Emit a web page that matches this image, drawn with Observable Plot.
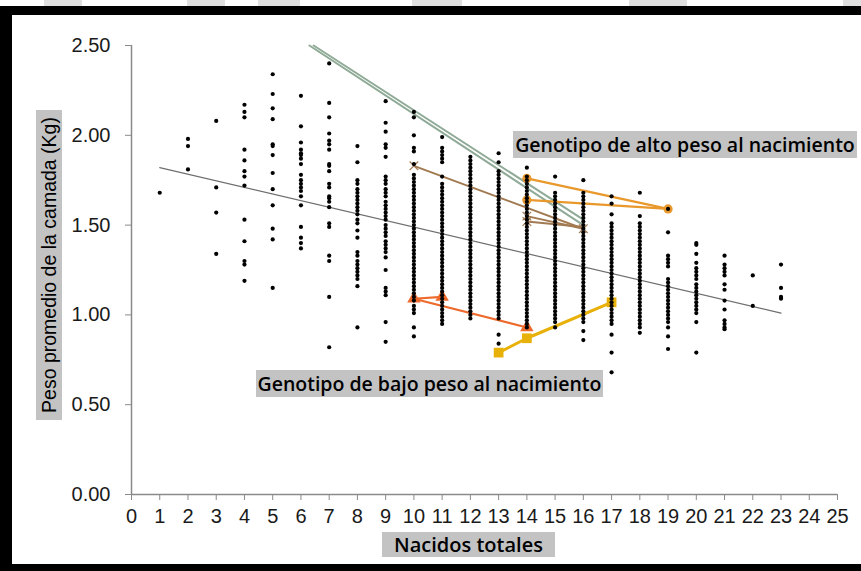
<!DOCTYPE html>
<html><head><meta charset="utf-8">
<script src="https://cdn.jsdelivr.net/npm/d3@7"></script>
<script src="https://cdn.jsdelivr.net/npm/@observablehq/plot@0.6"></script>
<style>
html,body{margin:0;padding:0;background:#fff;}
#wrap{position:relative;width:861px;height:571px;overflow:hidden;background:#fff;}
#chart{position:absolute;left:0;top:0;}
.box{position:absolute;background:#c3c3c3;color:#000;font-family:"Open Sans",sans-serif;font-weight:600;white-space:nowrap;display:flex;align-items:center;justify-content:center;}
.bar{position:absolute;background:#000;}
.blob{position:absolute;background:#e0e0e0;top:0;height:6px;}
#ylab{position:absolute;left:-106px;top:252px;width:310px;height:26px;transform:rotate(-90deg);background:#c3c3c3;color:#000;font-family:"Liberation Sans",Arial,sans-serif;font-size:19.5px;display:flex;align-items:center;justify-content:center;white-space:nowrap;}
</style>
</head><body>
<div id="wrap">
  <div id="chart"></div>
  <div class="blob" style="left:44px;width:38px"></div>
  <div class="blob" style="left:187px;width:38px"></div>
  <div class="blob" style="left:258px;width:42px"></div>
  <div class="blob" style="left:412px;width:50px"></div>
  <div class="blob" style="left:629px;width:58px"></div>
  <div class="blob" style="left:843px;width:18px"></div>
  <div class="bar" style="left:0;top:6px;width:861px;height:9px"></div>
  <div class="bar" style="left:0;top:6px;width:12px;height:565px"></div>
  <div class="bar" style="left:0;top:564px;width:861px;height:7px"></div>
  <div id="ylab"></div>
  <div class="box" id="xlab" style="left:382px;top:532px;width:173px;height:25px;font-size:20px"></div>
  <div class="box" id="alto" style="left:513px;top:131px;width:344px;height:27px;font-size:19.5px"></div>
  <div class="box" id="bajo" style="left:256px;top:370px;width:347px;height:27px;font-size:19.5px"></div>
</div>
<script>
// ---- texts ----
const yLabel = "Peso promedio de la camada (Kg)";
const xLabel = "Nacidos totales";
const notaAlto = "Genotipo de alto peso al nacimiento";
const notaBajo = "Genotipo de bajo peso al nacimiento";

// ---- axis ticks ----
const xTicks = [0,1,2,3,4,5,6,7,8,9,10,11,12,13,14,15,16,17,18,19,20,21,22,23,24,25];
const yTicks = [0, 0.5, 1.0, 1.5, 2.0, 2.5];

// ---- scatter: litter mean weight (kg) per total born ----
const peso1 = [1.68];
const peso2 = [1.98, 1.94, 1.81];
const peso3 = [2.08, 1.71, 1.57, 1.34];
const peso4 = [2.17, 2.13, 2.10, 1.92, 1.86, 1.80, 1.77, 1.72, 1.53, 1.41, 1.30, 1.28, 1.19];
const peso5 = [2.34, 2.23, 2.15, 2.09, 1.95, 1.94, 1.89, 1.79, 1.70, 1.61, 1.48, 1.42, 1.15];
const peso6 = [2.22, 2.05, 1.96, 1.92, 1.90, 1.89, 1.87, 1.84, 1.78, 1.75, 1.73, 1.71, 1.69, 1.66, 1.61, 1.49, 1.43, 1.40, 1.37];
const peso7 = [2.40, 2.18, 2.10, 2.01, 1.97, 1.95, 1.92, 1.84, 1.83, 1.80, 1.73, 1.71, 1.66, 1.65, 1.63, 1.60, 1.51, 1.49, 1.33, 1.30, 1.10, 0.82];
const peso8 = [1.94, 1.85, 1.75, 1.73, 1.70, 1.68, 1.66, 1.64, 1.62, 1.60, 1.58, 1.56, 1.53, 1.51, 1.47, 1.43, 1.35, 1.33, 1.30, 1.28, 1.26, 1.24, 1.22, 1.20, 1.16, 0.93];
const peso9 = [2.19, 2.07, 2.02, 1.95, 1.93, 1.88, 1.77, 1.75, 1.73, 1.70, 1.68, 1.66, 1.63, 1.61, 1.59, 1.57, 1.55, 1.53, 1.50, 1.48, 1.46, 1.44, 1.41, 1.39, 1.37, 1.35, 1.32, 1.25, 1.15, 1.13, 1.11, 0.96, 0.85];
const peso10 = [2.13, 2.10, 2.00, 1.93, 1.91, 1.84, 1.78, 1.76, 1.74, 1.72, 1.70, 1.68, 1.66, 1.64, 1.62, 1.60, 1.58, 1.56, 1.54, 1.52, 1.50, 1.48, 1.46, 1.44, 1.42, 1.40, 1.38, 1.36, 1.34, 1.32, 1.30, 1.28, 1.26, 1.24, 1.22, 1.20, 1.18, 1.16, 1.14, 1.12, 1.10, 1.08, 1.05, 1.03, 1.01, 0.93, 0.88];
const peso11 = [1.99, 1.93, 1.91, 1.89, 1.87, 1.85, 1.77, 1.73, 1.71, 1.69, 1.67, 1.65, 1.63, 1.61, 1.59, 1.57, 1.55, 1.53, 1.51, 1.49, 1.47, 1.45, 1.43, 1.41, 1.39, 1.37, 1.35, 1.33, 1.31, 1.29, 1.27, 1.25, 1.23, 1.21, 1.19, 1.17, 1.15, 1.13, 1.11, 1.09, 1.07, 1.05, 1.03, 1.01, 0.99, 0.97, 0.95];
const peso12 = [1.88, 1.86, 1.84, 1.82, 1.80, 1.78, 1.76, 1.74, 1.72, 1.70, 1.68, 1.66, 1.64, 1.62, 1.60, 1.58, 1.56, 1.54, 1.52, 1.50, 1.48, 1.46, 1.44, 1.42, 1.40, 1.38, 1.36, 1.34, 1.32, 1.30, 1.28, 1.26, 1.24, 1.22, 1.20, 1.18, 1.16, 1.14, 1.12, 1.10, 1.08, 1.06, 1.04, 1.02, 1.00, 0.98];
const peso13 = [1.90, 1.85, 1.80, 1.78, 1.76, 1.74, 1.72, 1.70, 1.68, 1.66, 1.64, 1.62, 1.60, 1.58, 1.56, 1.54, 1.52, 1.50, 1.48, 1.46, 1.44, 1.42, 1.40, 1.38, 1.36, 1.34, 1.32, 1.30, 1.28, 1.26, 1.24, 1.22, 1.20, 1.18, 1.16, 1.14, 1.12, 1.10, 1.08, 1.06, 1.04, 1.02, 1.00, 0.98, 0.89, 0.84];
const peso14 = [1.82, 1.77, 1.75, 1.73, 1.71, 1.69, 1.67, 1.65, 1.63, 1.61, 1.59, 1.57, 1.55, 1.53, 1.51, 1.49, 1.47, 1.45, 1.43, 1.41, 1.39, 1.37, 1.35, 1.33, 1.31, 1.29, 1.27, 1.25, 1.23, 1.21, 1.19, 1.17, 1.15, 1.13, 1.11, 1.09, 1.07, 1.05, 1.03, 1.01, 0.99, 0.97, 0.95, 0.93];
const peso15 = [1.77, 1.68, 1.66, 1.64, 1.62, 1.60, 1.58, 1.56, 1.54, 1.52, 1.50, 1.48, 1.46, 1.44, 1.42, 1.40, 1.38, 1.36, 1.34, 1.32, 1.30, 1.28, 1.26, 1.24, 1.22, 1.20, 1.18, 1.16, 1.14, 1.12, 1.10, 1.08, 1.06, 1.04, 1.02, 1.00, 0.98, 0.96, 0.93];
const peso16 = [1.75, 1.68, 1.66, 1.64, 1.62, 1.60, 1.58, 1.56, 1.54, 1.52, 1.50, 1.48, 1.46, 1.44, 1.42, 1.40, 1.38, 1.36, 1.34, 1.32, 1.30, 1.28, 1.26, 1.24, 1.22, 1.20, 1.18, 1.16, 1.14, 1.12, 1.10, 1.08, 1.06, 1.04, 1.02, 1.00, 0.98, 0.96, 0.91, 0.86];
const peso17 = [1.66, 1.62, 1.56, 1.51, 1.49, 1.47, 1.45, 1.43, 1.41, 1.39, 1.37, 1.35, 1.33, 1.31, 1.29, 1.27, 1.25, 1.23, 1.21, 1.19, 1.17, 1.15, 1.13, 1.11, 1.09, 1.07, 1.05, 1.03, 1.01, 0.99, 0.97, 0.95, 0.89, 0.79, 0.68];
const peso18 = [1.68, 1.55, 1.51, 1.49, 1.47, 1.45, 1.43, 1.41, 1.39, 1.37, 1.35, 1.33, 1.31, 1.29, 1.27, 1.25, 1.23, 1.21, 1.19, 1.17, 1.15, 1.13, 1.11, 1.09, 1.07, 1.05, 1.03, 1.01, 0.99, 0.97, 0.95, 0.93, 0.90];
const peso19 = [1.59, 1.46, 1.33, 1.31, 1.29, 1.27, 1.20, 1.18, 1.16, 1.14, 1.12, 1.10, 1.08, 1.06, 1.04, 1.02, 1.00, 0.98, 0.96, 0.93, 0.88, 0.81];
const peso20 = [1.40, 1.39, 1.34, 1.29, 1.26, 1.24, 1.22, 1.20, 1.17, 1.15, 1.13, 1.11, 1.09, 1.07, 1.05, 1.03, 1.01, 0.96, 0.79];
const peso21 = [1.33, 1.28, 1.26, 1.24, 1.22, 1.17, 1.14, 1.08, 1.03, 0.97, 0.95, 0.93, 0.92];
const peso22 = [1.22, 1.05];
const peso23 = [1.28, 1.15, 1.10, 1.09];

// ---- overall trend line (endpoints) ----
const tendenciaX = [1, 23];
const tendenciaY = [1.82, 1.01];

// ---- genotype lines: [nacidos, peso] ----
const verde1 = [[6.3, 2.50], [16, 1.50]];
const verde2 = [[6.45, 2.50], [16, 1.53]];
const marron1 = [[10, 1.83], [16, 1.48]];
const marron2 = [[14, 1.55], [16, 1.48]];
const marron3 = [[14, 1.52], [16, 1.49]];
const naranja1 = [[14, 1.76], [19, 1.59]];
const naranja2 = [[14, 1.64], [19, 1.59]];
const rojo = [[11, 1.10], [10, 1.09], [14, 0.93]];
const amarillo = [[13, 0.79], [14, 0.87], [17, 1.07]];

// ---- build ----
const columnas = [peso1,peso2,peso3,peso4,peso5,peso6,peso7,peso8,peso9,peso10,peso11,peso12,peso13,peso14,peso15,peso16,peso17,peso18,peso19,peso20,peso21,peso22,peso23];
const puntos = columnas.flatMap((arr, i) => arr.map(v => ({x: i + 1, y: v})));
const tendencia = tendenciaX.map((x, i) => ({x, y: tendenciaY[i]}));
const pts = a => a.map(([x, y]) => ({x, y}));

const cVerde = "#8faa96", cMarron = "#a27a52", cNaranja = "#e9982c", cRojo = "#ee6a2c", cAmar = "#e8b10a";

const lineMark = (arr, color, w) => Plot.line(pts(arr), {x: "x", y: "y", stroke: color, strokeWidth: w});

const chart = Plot.plot({
  width: 861, height: 571,
  marginLeft: 131, marginRight: 24, marginTop: 45, marginBottom: 77,
  style: {fontFamily: "'Liberation Sans', Arial, sans-serif", fontSize: "20px", background: "transparent", color: "#1a1a1a"},
  x: {domain: [0, 25], axis: null},
  y: {domain: [0, 2.5], axis: null},
  marks: [
    Plot.axisY({ticks: yTicks, tickFormat: d => d.toFixed(2), tickSize: 6, tickPadding: 15, stroke: "#8a8a8a", fill: "#1a1a1a", label: null}),
    Plot.axisX({ticks: xTicks, tickFormat: d => String(d), tickSize: 6, tickPadding: 8, stroke: "#8a8a8a", fill: "#1a1a1a", label: null}),
    Plot.ruleX([0], {stroke: "#8a8a8a", strokeWidth: 1.5}),
    Plot.ruleY([0], {stroke: "#8a8a8a", strokeWidth: 1.5}),
    Plot.line(tendencia, {x: "x", y: "y", stroke: "#6f6f6f", strokeWidth: 1.2}),
    lineMark(verde1, cVerde, 2),
    lineMark(verde2, cVerde, 2),
    lineMark(marron1, cMarron, 2),
    lineMark(marron2, cMarron, 2),
    lineMark(marron3, cMarron, 2),
    Plot.dot(pts([marron1[0], marron2[0], marron3[0], marron1[1]]), {x: "x", y: "y", symbol: "times", r: 4, stroke: cMarron, strokeWidth: 1.2}),
    lineMark(naranja1, cNaranja, 2.2),
    lineMark(naranja2, cNaranja, 2.2),
    Plot.dot(pts([naranja1[0], naranja2[0], naranja1[1]]), {x: "x", y: "y", symbol: "circle", r: 4.6, fill: cNaranja, stroke: null}),
    lineMark(rojo, cRojo, 2.2),
    Plot.dot(pts(rojo), {x: "x", y: "y", symbol: "triangle", r: 5, fill: cRojo, stroke: null}),
    lineMark(amarillo, cAmar, 3),
    Plot.dot(pts(amarillo), {x: "x", y: "y", symbol: "square", r: 5.5, fill: cAmar, stroke: null}),
    Plot.dot(puntos, {x: "x", y: "y", r: 2.1, fill: "#000", stroke: null})
  ]
});
document.getElementById("chart").appendChild(chart);
document.getElementById("ylab").textContent = yLabel;
document.getElementById("xlab").textContent = xLabel;
document.getElementById("alto").textContent = notaAlto;
document.getElementById("bajo").textContent = notaBajo;
</script>
</body></html>
